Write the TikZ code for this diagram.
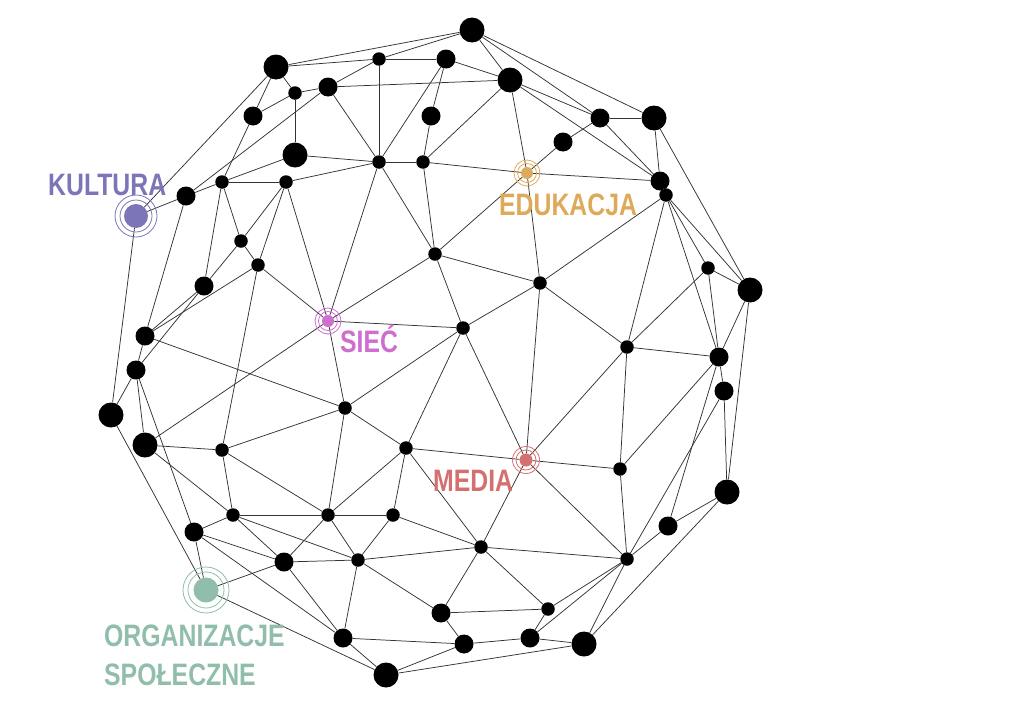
\documentclass[tikz,border=0pt]{standalone}
\usepackage{fontspec}
\newfontfamily\labelfont[FakeStretch=0.8]{Liberation Sans}

\definecolor{kultcol}{HTML}{7C76B8}
\definecolor{educol}{HTML}{DEAA5A}
\definecolor{sieccol}{HTML}{CE6ECE}
\definecolor{mediacol}{HTML}{D47070}
\definecolor{orgcol}{HTML}{90BEAA}

\tikzset{
	dotnode/.style = {circle, fill = black, inner sep = 0pt},
	bigdot/.style = {dotnode, minimum size = 25pt},
	middot/.style = {dotnode, minimum size = 19pt},
	smalldot/.style = {dotnode, minimum size = 13.5pt},
	hub/.style = {circle, fill = #1, inner sep = 0pt},
	ring/.style = {draw = #1, line width = 0.8pt},
	link/.style = {draw = black!80, line width = 0.75pt},
	hubtext/.style = {text = #1, font = \labelfont\bfseries\fontsize{31}{34}\selectfont, inner sep = 0pt, anchor = base west}
}

\begin{document}
\begin{tikzpicture}[x = 1pt, y = -1pt]
	\useasboundingbox (0, 0) rectangle (1024, 712);
	% dots
	\foreach \n/\x/\y in {n1/472/30, n4/276/67, n7/510/80, n11/654/118, n13/295/155, n28/750/290, n35/111/415, n37/145/445, n41/727/492, n56/584/644, n57/386/675}
		\node[bigdot] (\n) at (\x, \y) {};
	\foreach \n/\x/\y in {n3/446/59, n6/328/87, n8/253/116, n9/431/116, n10/600/118, n12/563/142, n17/660/181, n19/186/196, n24/204/286, n30/145/336, n32/719/357, n33/136/370, n34/724/391, n45/194/532, n46/668/526, n49/284/562, n51/441/613, n53/343/638, n54/464/644, n55/530/638}
		\node[middot] (\n) at (\x, \y) {};
	\foreach \n/\x/\y in {n2/379/59, n5/295/93, n14/379/162, n15/423/162, n18/666/195, n20/222/182, n21/286/182, n22/241/241, n23/258/265, n25/435/254, n26/540/283, n27/708/268, n29/463/328, n31/627/347, n36/345/408, n38/222/450, n39/406/448, n40/620/469, n42/233/515, n43/328/515, n44/393/515, n47/481/547, n48/358/560, n50/627/559, n52/548/609}
		\node[smalldot] (\n) at (\x, \y) {};
	% hubs
	\node[hub = kultcol, minimum size = 24pt] (kultura) at (136, 216) {};
	\node[hub = educol, minimum size = 12pt] (edu) at (527, 173) {};
	\node[hub = sieccol, minimum size = 12pt] (siec) at (328, 321) {};
	\node[hub = mediacol, minimum size = 13pt] (media) at (526, 460) {};
	\node[hub = orgcol, minimum size = 25pt] (org) at (206, 590) {};
	% links
	\foreach \a/\b in {n1/n4, n1/n2, n1/n7, n1/n10, n1/n11,
		n2/n3, n2/n4, n2/n6, n2/n14, n3/n7, n3/n9, n3/n14,
		n4/n5, n4/n8, n4/kultura, n5/n6, n5/n8, n5/n13,
		n6/n7, n6/n14, n6/n19, n7/n10, n7/n15, n7/edu, n7/n17,
		n8/n20, n9/n15, n10/n11, n10/n12, n10/n17, n11/n17, n11/n28,
		n12/edu, n13/n14, n13/n20, n14/n15, n14/n21, n14/n25, n14/siec,
		n15/edu, n15/n25, edu/n17, edu/n25, edu/n26, n17/n18,
		n18/n26, n18/n27, n18/n28, n18/n31, n18/n32,
		n19/kultura, n19/n20, n19/n30, n20/n21, n20/n22, n20/n24,
		n21/n22, n21/n23, n21/siec, kultura/n35, n22/n23, n22/n24,
		n23/n30, n23/siec, n23/n38, n24/n30, n24/n33,
		n25/n26, n25/siec, n25/n29, n26/n29, n26/n31, n26/media,
		n27/n28, n27/n31, n27/n32, n28/n32, n28/n41,
		siec/n29, siec/n36, siec/n37, n29/n36, n29/n39, n29/media,
		n30/n33, n30/n36, n31/n32, n31/n40, n31/media,
		n32/n34, n32/n40, n32/n46, n33/n35, n33/n37, n33/n45,
		n34/n41, n34/n50, n35/org, n36/n38, n36/n39, n36/n43,
		n37/n38, n37/n42, n38/n42, n38/n43,
		n39/media, n39/n43, n39/n44, n39/n47,
		media/n40, media/n47, media/n50, n40/n50, n41/n46, n41/n56,
		n42/n43, n42/n45, n42/n48, n42/n49, n43/n44, n43/n48, n43/n49,
		n44/n47, n44/n48, n45/n49, n45/n53, n45/org, n46/n50,
		n47/n48, n47/n50, n47/n51, n47/n52, n48/n49, n48/n51, n48/n53,
		n49/n53, n49/org, n50/n52, n50/n55, n50/n56, org/n57,
		n51/n52, n51/n54, n52/n55, n53/n54, n53/n57,
		n54/n55, n54/n57, n55/n56, n56/n57}
		\draw[link] (\a) -- (\b);
	% rings
	\draw[ring = kultcol] (kultura.center) circle [radius = 16pt] (kultura.center) circle [radius = 21pt];
	\draw[ring = educol] (edu.center) circle [radius = 9.5pt] (edu.center) circle [radius = 13pt];
	\draw[ring = sieccol] (siec.center) circle [radius = 9.5pt] (siec.center) circle [radius = 13pt];
	\draw[ring = mediacol] (media.center) circle [radius = 10pt] (media.center) circle [radius = 13.5pt];
	\draw[ring = orgcol] (org.center) circle [radius = 18pt] (org.center) circle [radius = 23pt];
	% labels
	\node[hubtext = kultcol] (kulturatext) at (48, 195) {KULTURA};
	\node[hubtext = educol] (edutext) at (499, 215) {EDUKACJA};
	\node[hubtext = sieccol] (siectext) at (340, 352) {SIEĆ};
	\node[hubtext = mediacol] (mediatext) at (433, 491) {MEDIA};
	\node[hubtext = orgcol] (orgtext) at (104, 646) {ORGANIZACJE};
	\node[hubtext = orgcol] (orgtext2) at (104, 685) {SPOŁECZNE};
\end{tikzpicture}
\end{document}
